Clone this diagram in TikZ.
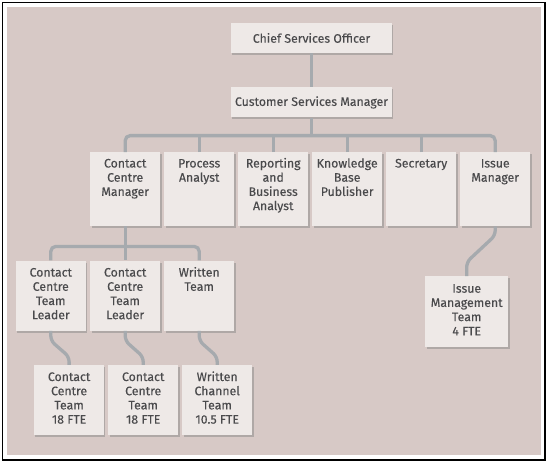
\documentclass[tikz,border=0pt]{standalone}
\usepackage{fontspec}
\setmainfont{Fira Sans}[UprightFeatures={FakeBold=0.2}]
\usetikzlibrary{positioning,shadows}
\definecolor{paper}{HTML}{D7C9C6}
\definecolor{boxfill}{HTML}{EEE9E7}
\definecolor{linkgrey}{HTML}{A6AAAE}
\definecolor{ink}{HTML}{4A4A4C}

\begin{document}
\begin{tikzpicture}[x=1pt, y=1pt,
    base/.style={fill=boxfill, inner sep=0pt, text=ink, font=\fontsize{12.3}{14.2}\selectfont,
                 drop shadow={shadow xshift=1.3pt, shadow yshift=-2pt, opacity=0.45}},
    officer/.style={base, minimum width=161pt, minimum height=30pt},
    unit/.style={base,
                 execute at begin node={\begin{minipage}[t][74pt][t]{70pt}\centering\rule{0pt}{15.3pt}},
                 execute at end node={\end{minipage}}},
    team/.style={base,
                 execute at begin node={\begin{minipage}[t][70pt][t]{70pt}\centering\rule{0pt}{16pt}},
                 execute at end node={\end{minipage}}},
    bigteam/.style={base,
                 execute at begin node={\begin{minipage}[t][71pt][t]{83pt}\centering\rule{0pt}{16.5pt}},
                 execute at end node={\end{minipage}}},
    link/.style={draw=linkgrey, line width=3.3pt, rounded corners=5pt}]
    % frame
    \useasboundingbox (0,0) rectangle (548,-463);
    \draw[line width=1.5pt] (2.5,-2.5) rectangle (545,-460);
    \fill[paper] (7,-7) rectangle (540.5,-455);
    % nodes
    \node[officer]                      (cso)   at (311.5,-38)      {Chief Services Officer};
    \node[officer]                      (csm)   [below=34pt of cso] {Customer Services Manager};
    \node[unit, anchor=north west]      (ccm)   at (90,-152)       {Contact\\Centre\\Manager};
    \node[unit]                         (pa)    [right=3.6pt of ccm] {Process\\Analyst};
    \node[unit]                         (rba)   [right=3.6pt of pa]  {Reporting\\and\\Business\\Analyst};
    \node[unit]                         (kbp)   [right=3.6pt of rba] {Knowledge\\Base\\Publisher};
    \node[unit]                         (sec)   [right=3.6pt of kbp] {Secretary};
    \node[unit]                         (im)    [right=3.6pt of sec] {Issue\\Manager};
    \node[team]                         (cctl2) [below=34pt of ccm]  {Contact\\Centre\\Team\\Leader};
    \node[team]                         (cctl1) [left=4pt of cctl2]  {Contact\\Centre\\Team\\Leader};
    \node[team]                         (wt)    [right=3.6pt of cctl2] {Written\\Team};
    \node[team]                         (cct2)  [below=34pt of cctl2, xshift=18pt] {Contact\\Centre\\Team\\18 FTE};
    \node[team]                         (cct1)  [left=3.7pt of cct2] {Contact\\Centre\\Team\\18 FTE};
    \node[team]                         (wct)   [right=3.6pt of cct2] {Written\\Channel\\Team\\10.5 FTE};
    \node[bigteam, anchor=north west]   (imt)   at (425,-276)      {Issue\\Management\\Team\\4 FTE};
    % lines
    \coordinate (bus) at ([yshift=-18pt]csm.south);
    \coordinate (subbus) at ([yshift=-20pt]ccm.south);
    \draw[link] (cso) -- (csm);
    \draw[link] (csm) -- (bus);
    \draw[link] (ccm.north) |- (bus) -| (im.north);
    \draw[link] (pa.north) -- (pa.north |- bus);
    \draw[link] (rba.north) -- (rba.north |- bus);
    \draw[link] (kbp.north) -- (kbp.north |- bus);
    \draw[link] (sec.north) -- (sec.north |- bus);
    \draw[link] (ccm) -- (cctl2);
    \draw[link] (cctl1.north) |- (subbus) -| (wt.north);
    \draw[link] (cctl1.south) -- ++(0,-10) -- ([yshift=8pt]cct1.north) -- (cct1.north);
    \draw[link] (cctl2.south) -- ++(0,-10) -- ([yshift=8pt]cct2.north) -- (cct2.north);
    \draw[link] (wt.south) -- ++(0,-10) -- ([yshift=8pt]wct.north) -- (wct.north);
    \draw[link] (im.south) -- ++(0,-9) -- ([yshift=14pt]imt.north) -- (imt.north);
\end{tikzpicture}
\end{document}
